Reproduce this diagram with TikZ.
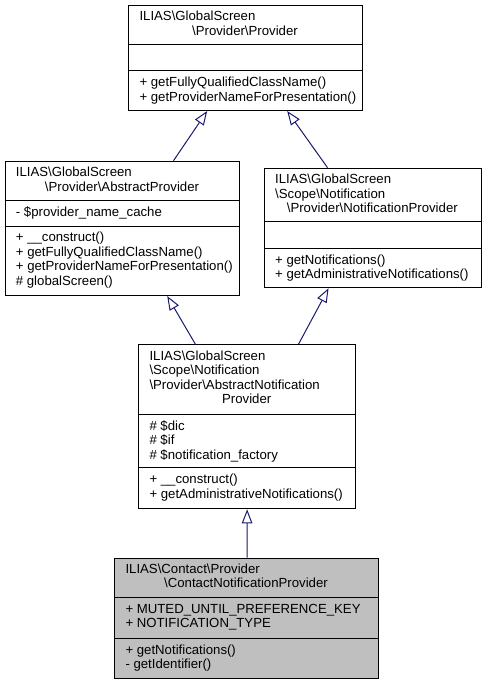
\documentclass[tikz,border=0pt]{standalone}
\usepackage{fontspec}
\setmainfont{Liberation Sans}
\usetikzlibrary{arrows.meta}
\definecolor{edgeblue}{RGB}{25,25,112}
\definecolor{leafgray}{RGB}{191,191,191}
\tikzset{
  umlbox/.style={draw=black, line width=1bp, fill=white, inner sep=0pt, anchor=north west},
  sepline/.style={draw=black, line width=1bp},
  lt/.style={anchor=base west, inner sep=0pt, font=\fontsize{13.2bp}{14.5bp}\selectfont},
  ct/.style={anchor=base, inner sep=0pt, font=\fontsize{13.2bp}{14.5bp}\selectfont},
  inherit/.style={draw=edgeblue, line width=1bp, -{Triangle[open, length=14bp, width=10.5bp]}},
}
\newcommand{\bs}{\textbackslash}
\begin{document}
\begin{tikzpicture}[x=1bp, y=-1bp]
\useasboundingbox (0,0) rectangle (485,684);

% ---------- Box 1: Provider ----------
\node[umlbox, minimum width=233.4bp, minimum height=105bp] (b1) at (128.3,5) {};
\draw[sepline] (128.3,45) -- (361.7,45);
\draw[sepline] (128.3,71) -- (361.7,71);
\node[lt] (b1t1) at (139.3,20.8) {ILIAS\bs GlobalScreen};
\node[ct] (b1t2) at (245,35.3) {\bs Provider\bs Provider};
\node[lt] (b1m1) at (139.3,86.8) {+ getFullyQualifiedClassName()};
\node[lt] (b1m2) at (139.3,101.3) {+ getProviderNameForPresentation()};

% ---------- Box 2: AbstractProvider ----------
\node[umlbox, minimum width=234.6bp, minimum height=134.3bp] (b2) at (4.7,160.7) {};
\draw[sepline] (4.7,200.7) -- (239.3,200.7);
\draw[sepline] (4.7,226) -- (239.3,226);
\node[lt] (b2t1) at (15.7,176.5) {ILIAS\bs GlobalScreen};
\node[ct] (b2t2) at (122,191) {\bs Provider\bs AbstractProvider};
\node[lt] (b2a1) at (15.7,216.5) {- \$provider\_name\_cache};
\node[lt] (b2m1) at (15.7,241.8) {+ \_\_construct()};
\node[lt] (b2m2) at (15.7,256.3) {+ getFullyQualifiedClassName()};
\node[lt] (b2m3) at (15.7,270.8) {+ getProviderNameForPresentation()};
\node[lt] (b2m4) at (15.7,285.3) {\# globalScreen()};

% ---------- Box 3: NotificationProvider ----------
\node[umlbox, minimum width=216.7bp, minimum height=119.6bp] (b3) at (264,167.7) {};
\draw[sepline] (264,221.7) -- (480.7,221.7);
\draw[sepline] (264,248.3) -- (480.7,248.3);
\node[lt] (b3t1) at (275,183.5) {ILIAS\bs GlobalScreen};
\node[lt] (b3t2) at (275,198) {\bs Scope\bs Notification};
\node[ct] (b3t3) at (372.3,212.5) {\bs Provider\bs NotificationProvider};
\node[lt] (b3m1) at (275,264.1) {+ getNotifications()};
\node[lt] (b3m2) at (275,278.6) {+ getAdministrativeNotifications()};

% ---------- Box 4: AbstractNotificationProvider ----------
\node[umlbox, minimum width=216.7bp, minimum height=164bp] (b4) at (138.3,344.3) {};
\draw[sepline] (138.3,414.3) -- (355,414.3);
\draw[sepline] (138.3,467.7) -- (355,467.7);
\node[lt] (b4t1) at (149.3,360.3) {ILIAS\bs GlobalScreen};
\node[lt] (b4t2) at (149.3,374.8) {\bs Scope\bs Notification};
\node[lt] (b4t3) at (149.3,389.3) {\bs Provider\bs AbstractNotification};
\node[ct] (b4t4) at (246.7,403.8) {Provider};
\node[lt] (b4a1) at (149.3,430.1) {\# \$dic};
\node[lt] (b4a2) at (149.3,444.6) {\# \$if};
\node[lt] (b4a3) at (149.3,459.1) {\# \$notification\_factory};
\node[lt] (b4m1) at (149.3,483.5) {+ \_\_construct()};
\node[lt] (b4m2) at (149.3,498) {+ getAdministrativeNotifications()};

% ---------- Box 5: ContactNotificationProvider ----------
\node[umlbox, fill=leafgray, minimum width=263.4bp, minimum height=120bp] (b5) at (114.3,557.7) {};
\draw[sepline] (114.3,597.3) -- (377.7,597.3);
\draw[sepline] (114.3,638.3) -- (377.7,638.3);
\node[lt] (b5t1) at (125.3,573.3) {ILIAS\bs Contact\bs Provider};
\node[ct] (b5t2) at (246,587.8) {\bs ContactNotificationProvider};
\node[lt] (b5a1) at (125.3,613) {+ MUTED\_UNTIL\_PREFERENCE\_KEY};
\node[lt] (b5a2) at (125.3,627.5) {+ NOTIFICATION\_TYPE};
\node[lt] (b5m1) at (125.3,654) {+ getNotifications()};
\node[lt] (b5m2) at (125.3,668.5) {- getIdentifier()};

% ---------- Inheritance edges ----------
\draw[inherit] ([xshift=51bp]b2.north) -- ([xshift=-38.3bp]b1.south);
\draw[inherit] ([xshift=-45.3bp]b3.north) -- ([xshift=41.7bp]b1.south);
\draw[inherit] ([xshift=-51.7bp]b4.north) -- ([xshift=44.7bp]b2.south);
\draw[inherit] ([xshift=51.3bp]b4.north) -- ([xshift=-44.3bp]b3.south);
\draw[inherit] ([xshift=0.5bp]b5.north) -- (b4.south);
\end{tikzpicture}
\end{document}
